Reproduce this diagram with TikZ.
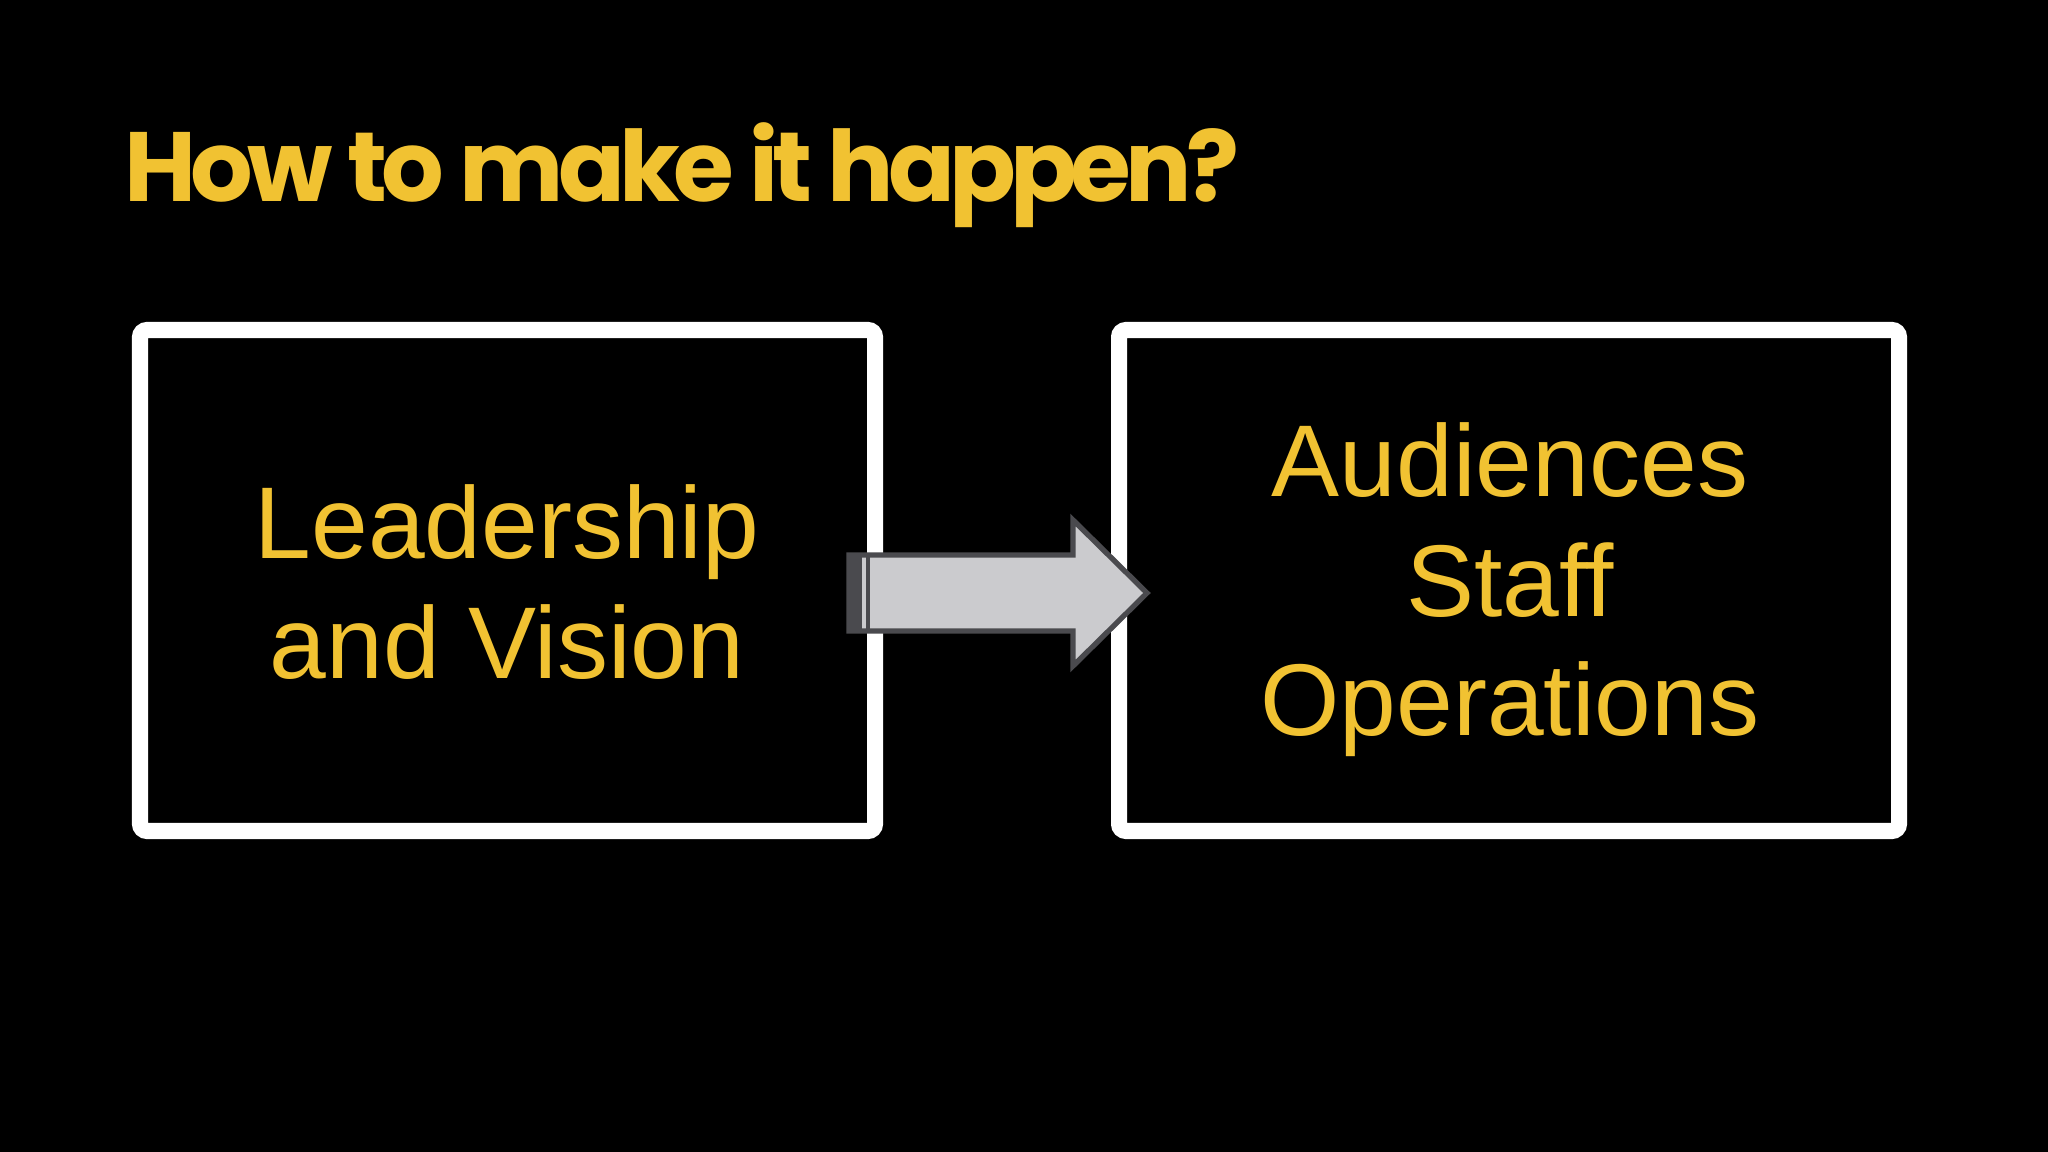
\documentclass[tikz,border=0pt]{standalone}
\usepackage{fontspec}
\setmainfont{Liberation Sans}
\newfontfamily\titlefont[LetterSpace=-6]{Poppins}
\definecolor{gold}{HTML}{F1C232}
\definecolor{arrowgray}{HTML}{CBCBCE}
\definecolor{arrowedge}{HTML}{4A4A4E}
\tikzset{
  boxtext/.style={text=gold,font=\fontsize{29}{34}\selectfont,align=center},
}
\begin{document}
\begin{tikzpicture}[x=0.01cm,y=-0.01cm]
\fill[black] (0,0) rectangle (2048,1152);
\useasboundingbox (0,0) rectangle (2048,1152);
\node[anchor=base west,inner sep=0,text=gold,font=\titlefont\bfseries\fontsize{28}{36}\selectfont] (title) at (124,202) {How to make it happen?};
\draw[draw=white,line width=0.16cm,rounded corners=2pt] (140,330) rectangle (875,831);
\draw[draw=white,line width=0.16cm,rounded corners=2pt] (1119,330) rectangle (1899,831);
\node[boxtext] (lv) at (507,582) {Leadership\\and Vision};
\node[boxtext] (aso) at (1510,590) {Audiences\\Staff\\Operations};
\draw[fill=arrowgray,draw=arrowedge,line width=1.5pt,line join=miter]
  (849,555) -- (1073,555) -- (1073,520) -- (1147,593) -- (1073,666) -- (1073,631) -- (849,631) -- cycle;
\fill[arrowedge] (849,555) rectangle (862,631);
\draw[arrowedge,line width=1pt] (868,555) -- (868,631);
\end{tikzpicture}
\end{document}
